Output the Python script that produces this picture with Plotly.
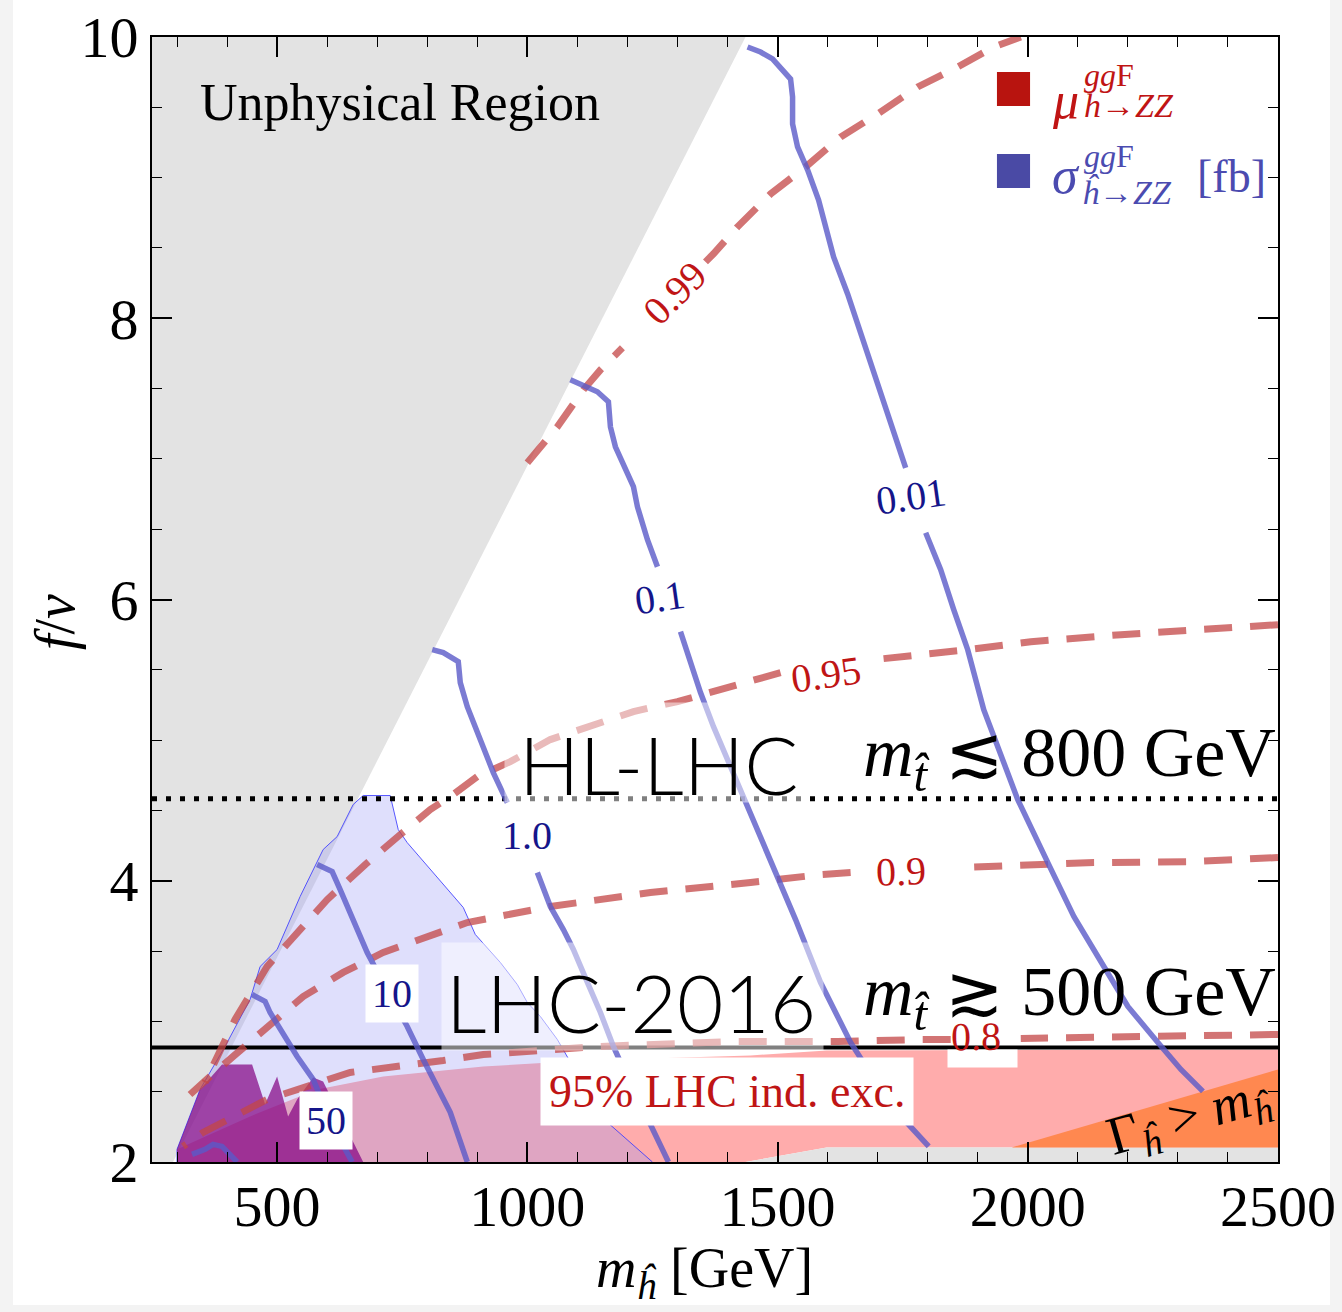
import plotly.graph_objects as go

# ---------------- data (m_h in GeV, f/v) ----------------
unphys_x = [250, 1436, 292, 250]
unphys_y = [10, 10, 2, 2]

pink_x = [300, 366, 446, 580, 712, 912, 1046, 1246, 1446, 1598, 2500, 2500, 1598, 1436, 300]
pink_y = [2.09, 2.196, 2.324, 2.516, 2.608, 2.679, 2.708, 2.736, 2.758, 2.793, 2.80, 2.104, 2.104, 2.0, 2.0]

band_x = [1436, 1598, 2500, 2500]
band_y = [2.0, 2.104, 2.104, 2.0]

width_x = [1968, 2500, 2500]
width_y = [2.104, 2.658, 2.104]

lav_x = [300, 300, 346, 396, 446, 466, 500, 546, 592, 620, 652, 672, 726, 742, 760, 872, 896,
         946, 980, 1000, 1026, 1060, 1106, 1160, 1250]
lav_y = [2.0, 2.09, 2.516, 2.822, 3.156, 3.39, 3.511, 3.888, 4.222, 4.314, 4.542, 4.606, 4.606,
         4.364, 4.271, 3.81, 3.618, 3.419, 3.262, 3.134, 3.035, 2.871, 2.587, 2.282, 2.0]

purple_x = [300, 300, 346, 390, 450, 476, 500, 522, 540, 572, 592, 672]
purple_y = [2.0, 2.09, 2.516, 2.694, 2.694, 2.41, 2.608, 2.324, 2.445, 2.601, 2.573, 2.0]

# cross-section contours sigma [fb]  (None = label gap)
s001_x = [1440, 1466, 1490, 1526, 1530, 1530, 1540, 1560, 1582, 1600, 1612, 1640, 1660, 1680, 1700,
          1726, 1756, None, 1796, 1826, 1852, 1880, 1912, 1940, 1980, 2040, 2092, 2152, 2200, 2260,
          2306, 2350]
s001_y = [9.929, 9.893, 9.844, 9.701, 9.574, 9.382, 9.218, 9.055, 8.841, 8.579, 8.436, 8.173, 7.96,
          7.74, 7.512, 7.242, 6.936, None, 6.475, 6.212, 5.928, 5.643, 5.217, 4.954, 4.577, 4.129,
          3.746, 3.39, 3.106, 2.85, 2.658, 2.502]
s01_x = [1086, 1110, 1140, 1162, 1166, 1176, 1196, 1212, 1220, 1240, 1260, None, 1306, 1346, 1372,
         1400, 1436, 1486, 1536, 1586, 1646, 1706, 1756, 1802]
s01_y = [7.562, 7.527, 7.477, 7.406, 7.228, 7.086, 6.923, 6.802, 6.66, 6.425, 6.233, None, 5.771,
         5.338, 5.096, 4.861, 4.577, 4.151, 3.724, 3.276, 2.85, 2.516, 2.289, 2.111]
s1_x = [810, 832, 862, 866, 880, 906, 932, 960, None, 1020, 1046, 1072, 1092, 1120, 1146, 1172,
        1206, 1246, 1282]
s1_y = [5.643, 5.622, 5.558, 5.409, 5.238, 5.004, 4.769, 4.556, None, 4.058, 3.817, 3.653, 3.511,
        3.277, 3.063, 2.822, 2.552, 2.267, 2.0]
s10_x = [580, 610, 626, 656, 680, 720, 760, 792, 846, 880]
s10_y = [4.115, 4.065, 3.937, 3.689, 3.49, 3.22, 2.964, 2.729, 2.353, 2.0]
s50_x = [450, 476, 486, 540, 572, 600, 636, 650]
s50_y = [3.191, 3.142, 3.063, 2.75, 2.587, 2.35, 2.09, 2.0]
s100_x = [330, 356, 372, 390, 420]
s100_y = [2.054, 2.09, 2.125, 2.111, 2.0]

# signal strength contours mu
m099_x = [1000, 1060, 1112, 1146, 1190, None, 1356, 1372, 1420, 1486, 1556, 1626, 1700, 1780, 1860,
          1932, 1986]
m099_y = [6.972, 7.228, 7.491, 7.633, 7.79, None, 8.401, 8.458, 8.65, 8.884, 9.076, 9.289, 9.453,
          9.645, 9.787, 9.929, 10.0]
m095_x = [2500, 2320, 2186, 2006, 1880, 1692, None, 1506, 1380, 1300, 1212, 1126, 1046, 966, 900,
          846, 806, 746, 676, 600, 546, 480, 416, 356]
m095_y = [5.821, 5.785, 5.75, 5.70, 5.643, 5.572, None, 5.48, 5.359, 5.274, 5.203, 5.096, 5.004,
          4.847, 4.741, 4.598, 4.506, 4.328, 4.115, 3.866, 3.653, 3.39, 3.014, 2.566]
m09_x = [2500, 2320, 2132, 1960, 1860, None, 1646, 1586, 1446, 1246, 1046, 880, 712, 632, 552, 480,
         412, 366, 326]
m09_y = [4.165, 4.136, 4.129, 4.108, 4.094, None, 4.058, 4.044, 3.987, 3.916, 3.817, 3.703, 3.49,
         3.348, 3.177, 2.964, 2.75, 2.608, 2.48]
m08_x = [2500, 2320, 1986, None, 1846, 1786, 1620, 1412, 1146, 912, 832, 746, 646, 480, 352, 312]
m08_y = [2.907, 2.893, 2.879, None, 2.871, 2.871, 2.857, 2.857, 2.822, 2.765, 2.722, 2.687, 2.637,
         2.445, 2.21, 2.111]

HL_LHC_FV = 4.584
LHC2016_FV = 2.814

x_ticks = [500, 1000, 1500, 2000, 2500]
y_ticks = [2, 4, 6, 8, 10]

SERIF = "Liberation Serif"
SANS = "Lato"
BLUE_LINE = "rgba(90,90,200,0.8)"
RED_LINE = "rgba(195,70,70,0.75)"
NAVY = "#15158a"
RED_TXT = "#bf1515"

fig = go.Figure()


def fill(x, y, color, line=None):
    fig.add_trace(go.Scatter(x=x, y=y, mode="lines", fill="toself", fillcolor=color,
                             line=line or dict(width=0), hoverinfo="skip", showlegend=False))


fill(unphys_x, unphys_y, "#e3e3e3")
fill(pink_x, pink_y, "#ffacac")
fill(band_x, band_y, "#e3e3e3")
fill(width_x, width_y, "#ff8850")
fill(lav_x, lav_y, "rgba(150,150,245,0.3)", dict(width=1, color="rgba(60,60,255,0.85)"))
fill(purple_x, purple_y, "rgba(130,0,130,0.7)")

# threshold lines
fig.add_trace(go.Scatter(x=[250, 2500], y=[HL_LHC_FV, HL_LHC_FV], mode="lines",
                         line=dict(color="black", width=5, dash="5px,9px"),
                         hoverinfo="skip", showlegend=False))
fig.add_trace(go.Scatter(x=[250, 2500], y=[LHC2016_FV, LHC2016_FV], mode="lines",
                         line=dict(color="black", width=4), hoverinfo="skip", showlegend=False))

for xs, ys in [(m099_x, m099_y), (m095_x, m095_y), (m09_x, m09_y), (m08_x, m08_y)]:
    fig.add_trace(go.Scatter(x=xs, y=ys, mode="lines", connectgaps=False,
                             line=dict(color=RED_LINE, width=7, dash="28px,18px"),
                             hoverinfo="skip", showlegend=False))
for xs, ys in [(s001_x, s001_y), (s01_x, s01_y), (s1_x, s1_y), (s10_x, s10_y), (s50_x, s50_y),
               (s100_x, s100_y)]:
    fig.add_trace(go.Scatter(x=xs, y=ys, mode="lines", connectgaps=False,
                             line=dict(color=BLUE_LINE, width=5.5),
                             hoverinfo="skip", showlegend=False))

ann = []


def A(text, x, y, size, color="black", family=SERIF, weight=None, **kw):
    f = dict(size=size, color=color, family=family)
    if weight:
        f["weight"] = weight
    d = dict(text=text, x=x, y=y, showarrow=False, font=f, xanchor="center", yanchor="middle")
    d.update(kw)
    ann.append(d)


# translucent label boxes
A("\u00a0", 1256, 4.915, 10, bgcolor="rgba(255,255,255,0.5)", width=300, height=99, borderpad=0)
A("\u00a0", 1211, 3.174, 10, bgcolor="rgba(255,255,255,0.5)", width=381, height=107, borderpad=0)
A("\u00a0", 1910, 2.734, 10, bgcolor="white", width=69, height=17, borderpad=0)

A("Unphysical Region", 342, 9.531, 52, xanchor="left")
A("HL-LHC", 1262, 4.833, 80, family=SANS, weight=300)
A("LHC-2016", 1208, 3.141, 80, family=SANS, weight=300)
A("<i>m</i><sub><i>t\u0302</i></sub> \u2272 800 GeV", 2500, 4.87, 70, xanchor="right")
A("<i>m</i><sub><i>t\u0302</i></sub> \u2273 500 GeV", 2500, 3.17, 70, xanchor="right")

# contour labels
A("0.01", 1766, 6.731, 40, NAVY, textangle=-8)
A("0.1", 1266, 6.013, 40, NAVY, textangle=-8)
A("1.0", 1000, 4.321, 40, NAVY)
A("10", 730, 3.198, 40, NAVY, bgcolor="white", borderpad=6)
A("50", 598, 2.296, 40, NAVY, bgcolor="white", borderpad=6)
A("0.99", 1296, 8.18, 40, RED_TXT, textangle=-45)
A("0.95", 1596, 5.465, 40, RED_TXT, textangle=-8)
A("0.9", 1746, 4.066, 40, RED_TXT, textangle=-2)
A("0.8", 1896, 2.893, 40, RED_TXT, textangle=-1)
A("95% LHC ind. exc.", 1399, 2.502, 46, RED_TXT, bgcolor="white", borderpad=8)
A("\u0393<sub><i>\u0125</i></sub> > <i>m</i><sub><i>\u0125</i></sub>", 2322, 2.31, 54,
  textangle=-16)

# legend (paper coords)
LR = "#c01414"
LB = "#4b4bb0"
for t, x, y, s, c, xa in [
    ("<i>\u03bc</i>", 0.8117, 0.944, 52, LR, "center"),
    ("<i>gg</i>F", 0.826, 0.9662, 32, LR, "left"),
    ("<i>h</i>\u2192<i>ZZ</i>", 0.826, 0.9387, 34, LR, "left"),
    ("<i>\u03c3</i>", 0.8117, 0.8773, 52, LB, "center"),
    ("<i>gg</i>F", 0.826, 0.8942, 32, LB, "left"),
    ("<i>\u0125</i>\u2192<i>ZZ</i>", 0.824, 0.8622, 34, LB, "left"),
    ("[fb]", 0.9263, 0.8756, 46, LB, "left"),
]:
    ann.append(dict(text=t, x=x, y=y, xref="paper", yref="paper", xanchor=xa, yanchor="middle",
                    showarrow=False, font=dict(size=s, color=c, family=SERIF)))

# axis titles
ann.append(dict(text="<i>m</i><sub><i>\u0125</i></sub> [GeV]", x=0.491, y=-0.098, xref="paper",
                yref="paper", xanchor="center", yanchor="middle", showarrow=False,
                font=dict(size=56, family=SERIF, color="black")))
ann.append(dict(text="<i>f</i>/<i>v</i>", x=-0.0861, y=0.48, xref="paper", yref="paper",
                xanchor="center", yanchor="middle",
                textangle=-90, showarrow=False, font=dict(size=56, family=SERIF, color="black")))

shapes = [
    dict(type="rect", xref="paper", yref="paper", x0=-0.1234, x1=1.0462, y0=-0.127, y1=1.04,
         fillcolor="white", line=dict(width=0), layer="below"),
    dict(type="rect", xref="paper", yref="paper", x0=0.7504, x1=0.7798, y0=0.9387, y1=0.9689,
         fillcolor="#b8140f", line=dict(width=0), layer="above"),
    dict(type="rect", xref="paper", yref="paper", x0=0.7504, x1=0.7798, y0=0.8658, y1=0.8960,
         fillcolor="#4a4aa5", line=dict(width=0), layer="above"),
]

axis_common = dict(showline=True, linecolor="black", linewidth=2, mirror="allticks",
                   ticks="inside", ticklen=20, tickwidth=1.5, tickcolor="black",
                   showgrid=False, zeroline=False, automargin=False,
                   tickfont=dict(size=58, family=SERIF, color="black"))

fig.update_layout(
    width=1342, height=1312, autosize=False,
    margin=dict(l=152, r=64, t=37, b=150),
    paper_bgcolor="#f3f3f3", plot_bgcolor="white",
    showlegend=False,
    annotations=ann, shapes=shapes,
    xaxis=dict(range=[250, 2500], tickvals=x_ticks, ticklabelstandoff=-8,
               minor=dict(ticks="inside", ticklen=10, dtick=100, tick0=0, tickcolor="black",
                          tickwidth=1.2),
               **axis_common),
    yaxis=dict(range=[2, 10], tickvals=y_ticks,
               minor=dict(ticks="inside", ticklen=10, dtick=0.5, tick0=0, tickcolor="black",
                          tickwidth=1.2),
               **axis_common),
)

fig.write_html("out.html")
